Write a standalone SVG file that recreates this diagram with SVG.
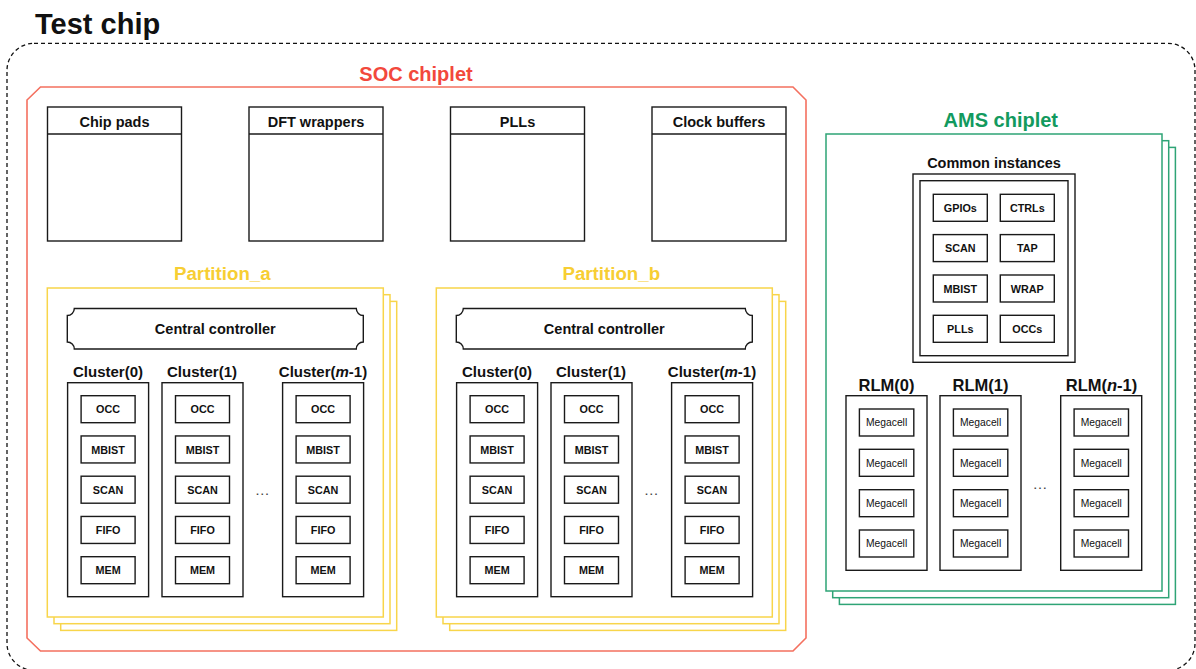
<svg xmlns="http://www.w3.org/2000/svg" width="1196" height="669" viewBox="0 0 1196 669">
  <defs>
    <style>
      text { font-family: "Liberation Sans", Arial, sans-serif; font-weight: bold; fill: #111; text-anchor: middle; }
      .title { font-size: 29px; text-anchor: start; }
      .chip { font-size: 20px; }
      .soc-t { fill: #F2483C; }
      .ams-t { fill: #129A5E; }
      .part-t { fill: #F7CE33; font-size: 18.7px; }
      .hdr { font-size: 14.5px; }
      .lbl { font-size: 15px; }
      .rlm { font-size: 16.5px; }
      .cell { font-size: 10.8px; }
      .mega { font-size: 10.3px; font-weight: normal; }
      .dots { font-size: 15px; font-weight: normal; fill: #444; }
      .box { fill: #fff; stroke: #1a1a1a; stroke-width: 1.4; }
      .soc { fill: none; stroke: #F4705F; stroke-width: 1.6; }
      .part { fill: #fff; stroke: #F8D54A; stroke-width: 1.5; }
      .ams { fill: #fff; stroke: #2EA476; stroke-width: 1.5; }
      .outer { fill: none; stroke: #111; stroke-width: 1.3; stroke-dasharray: 4 3; }
    </style>
    <!-- one cluster column: five sub-blocks -->
    <g id="cluster">
      <rect class="box" x="0" y="0" width="81" height="214"/>
      <rect class="box" x="13.5" y="13" width="54" height="27"/>
      <text class="cell" x="40.5" y="30.8">OCC</text>
      <rect class="box" x="13.5" y="53.25" width="54" height="27"/>
      <text class="cell" x="40.5" y="71">MBIST</text>
      <rect class="box" x="13.5" y="93.5" width="54" height="27"/>
      <text class="cell" x="40.5" y="111.3">SCAN</text>
      <rect class="box" x="13.5" y="133.75" width="54" height="27"/>
      <text class="cell" x="40.5" y="151.5">FIFO</text>
      <rect class="box" x="13.5" y="174" width="54" height="27"/>
      <text class="cell" x="40.5" y="191.8">MEM</text>
    </g>
    <!-- one RLM column: four megacells -->
    <g id="rlm">
      <rect class="box" x="0" y="0" width="81" height="174.6"/>
      <rect class="box" x="13.4" y="13.3" width="54.4" height="27"/>
      <text class="mega" x="40.6" y="30.6">Megacell</text>
      <rect class="box" x="13.4" y="53.6" width="54.4" height="27"/>
      <text class="mega" x="40.6" y="70.9">Megacell</text>
      <rect class="box" x="13.4" y="94" width="54.4" height="27"/>
      <text class="mega" x="40.6" y="111.3">Megacell</text>
      <rect class="box" x="13.4" y="134.3" width="54.4" height="27"/>
      <text class="mega" x="40.6" y="151.6">Megacell</text>
    </g>
    <!-- partition contents, drawn relative to the front sheet origin -->
    <g id="partition">
      <rect class="part" x="13.4" y="13.4" width="336" height="329"/>
      <rect class="part" x="6.7" y="6.7" width="336" height="329"/>
      <rect class="part" x="0" y="0" width="336" height="329"/>
      <path class="box" d="M27,20.5 H309 A7,7 0 0 0 316,27.5 V54 A7,7 0 0 0 309,61 H27 A7,7 0 0 0 20,54 V27.5 A7,7 0 0 0 27,20.5 Z"/>
      <text class="hdr" x="168" y="46">Central controller</text>
      <text class="lbl" x="60.7" y="88.7">Cluster(0)</text>
      <text class="lbl" x="154.7" y="88.7">Cluster(1)</text>
      <text class="lbl" x="275.7" y="88.7">Cluster(<tspan font-style="italic">m</tspan>-1)</text>
      <use href="#cluster" x="20.3" y="94.7"/>
      <use href="#cluster" x="114.7" y="94.7"/>
      <use href="#cluster" x="235.3" y="94.7"/>
      <text class="dots" x="215" y="207">…</text>
    </g>
  </defs>

  <text class="title" x="35" y="34">Test chip</text>

  <g id="test-chip">
    <rect class="outer" x="7" y="43.3" width="1188" height="627" rx="27" ry="27"/>
  </g>

  <g id="soc-chiplet">
    <path class="soc" d="M40.5,87 H793 L806,100 V638 L793,651 H40.5 L27,638 V100 Z"/>
    <text class="chip soc-t" x="416" y="80.7">SOC chiplet</text>
  </g>

  <g id="chip-pads">
    <rect class="box" x="47.5" y="107" width="134" height="134"/>
    <line class="box" x1="47.5" y1="134" x2="181.5" y2="134"/>
    <text class="hdr" x="114.5" y="127">Chip pads</text>
  </g>
  <g id="dft-wrappers">
    <rect class="box" x="249" y="107" width="134" height="134"/>
    <line class="box" x1="249" y1="134" x2="383" y2="134"/>
    <text class="hdr" x="316" y="127">DFT wrappers</text>
  </g>
  <g id="plls">
    <rect class="box" x="450.5" y="107" width="134" height="134"/>
    <line class="box" x1="450.5" y1="134" x2="584.5" y2="134"/>
    <text class="hdr" x="517.5" y="127">PLLs</text>
  </g>
  <g id="clock-buffers">
    <rect class="box" x="652" y="107" width="134" height="134"/>
    <line class="box" x1="652" y1="134" x2="786" y2="134"/>
    <text class="hdr" x="719" y="127">Clock buffers</text>
  </g>

  <g id="partition-a">
    <text class="part-t" x="222.3" y="279.5">Partition_a</text>
    <use href="#partition" x="47.3" y="288"/>
  </g>
  <g id="partition-b">
    <text class="part-t" x="611.3" y="279.5">Partition_b</text>
    <use href="#partition" x="436.3" y="288"/>
  </g>

  <g id="ams-chiplet">
    <rect class="ams" x="839.4" y="147.4" width="336" height="457"/>
    <rect class="ams" x="832.7" y="140.7" width="336" height="457"/>
    <rect class="ams" x="826" y="134" width="336" height="457"/>
    <text class="chip ams-t" x="1000.8" y="126.5">AMS chiplet</text>
  </g>

  <g id="common-instances">
    <text class="hdr" x="994" y="167.5">Common instances</text>
    <rect class="box" x="913" y="174" width="162" height="188.3"/>
    <rect class="box" x="920" y="180.7" width="148" height="175"/>
    <rect class="box" x="933.3" y="194.3" width="54" height="27"/>
    <text class="cell" x="960.3" y="212">GPIOs</text>
    <rect class="box" x="1000.3" y="194.3" width="54" height="27"/>
    <text class="cell" x="1027.3" y="212">CTRLs</text>
    <rect class="box" x="933.3" y="234.6" width="54" height="27"/>
    <text class="cell" x="960.3" y="252.3">SCAN</text>
    <rect class="box" x="1000.3" y="234.6" width="54" height="27"/>
    <text class="cell" x="1027.3" y="252.3">TAP</text>
    <rect class="box" x="933.3" y="275" width="54" height="27"/>
    <text class="cell" x="960.3" y="292.7">MBIST</text>
    <rect class="box" x="1000.3" y="275" width="54" height="27"/>
    <text class="cell" x="1027.3" y="292.7">WRAP</text>
    <rect class="box" x="933.3" y="315.3" width="54" height="27"/>
    <text class="cell" x="960.3" y="333">PLLs</text>
    <rect class="box" x="1000.3" y="315.3" width="54" height="27"/>
    <text class="cell" x="1027.3" y="333">OCCs</text>
  </g>

  <g id="rlm-0">
    <text class="rlm" x="886.5" y="390.7">RLM(0)</text>
    <use href="#rlm" x="846" y="395.7"/>
  </g>
  <g id="rlm-1">
    <text class="rlm" x="980.5" y="390.7">RLM(1)</text>
    <use href="#rlm" x="940" y="395.7"/>
  </g>
  <g id="rlm-n-1">
    <text class="rlm" x="1101.5" y="390.7">RLM(<tspan font-style="italic">n</tspan>-1)</text>
    <use href="#rlm" x="1060.7" y="395.7"/>
  </g>
  <text class="dots" x="1040" y="489">…</text>

  <g id="connectors"/>
</svg>
